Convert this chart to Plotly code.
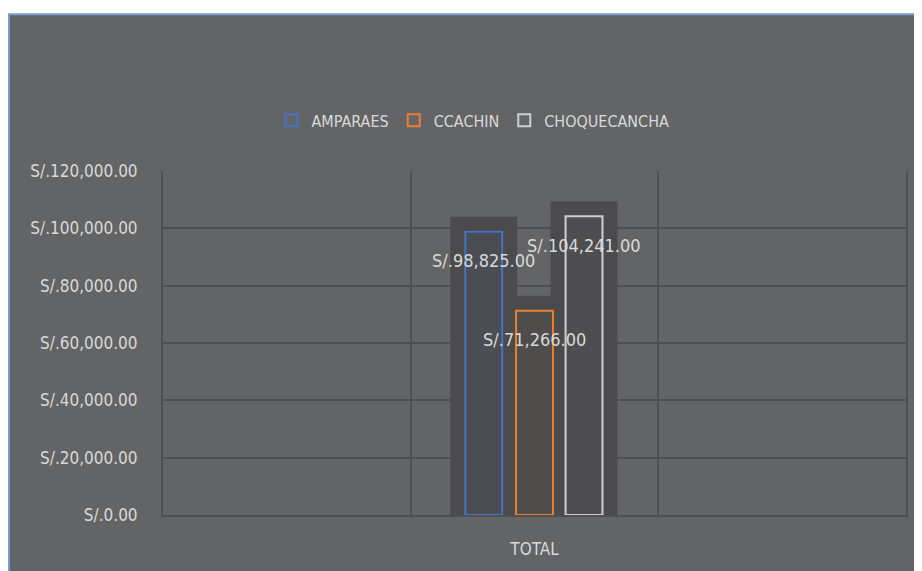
import plotly.graph_objects as go

# ---- data ----
categories = ["TOTAL"]
series_names = ["AMPARAES", "CCACHIN", "CHOQUECANCHA"]
series_values = {
    "AMPARAES": [98825.00],
    "CCACHIN": [71266.00],
    "CHOQUECANCHA": [104241.00],
}
y_tick_values = [0, 20000, 40000, 60000, 80000, 100000, 120000]
y_tick_text = [f"S/.{v:,.2f}" for v in y_tick_values]

# ---- style ----
FONT = "DejaVu Sans Condensed, Liberation Sans Narrow, sans-serif"
TXT = "#d9d9d9"
BG = "#636466"
GRID = "#4f4f51"
SHADOW = "#4b4b4d"
line_colors = {"AMPARAES": "#4472c4", "CCACHIN": "#ed7d31", "CHOQUECANCHA": "#cfcfcf"}
fill_colors = {"AMPARAES": "rgba(68,114,196,0.05)", "CCACHIN": "rgba(237,125,49,0.03)",
               "CHOQUECANCHA": "rgba(196,196,196,0.03)"}
cat_pos = [1.5]          # slot of the category on the 3-slot axis
bar_w = 0.149
offsets = [-0.205, 0.0, 0.2]   # bar centre offsets from category centre

fig = go.Figure()

# shadows
for i, name in enumerate(series_names):
    fig.add_trace(go.Bar(
        x=cat_pos, y=series_values[name], width=bar_w, offset=offsets[i] - bar_w / 2,
        marker=dict(color=SHADOW, line=dict(color=SHADOW, width=30)),
        showlegend=False, hoverinfo="skip"))

# bars
for i, name in enumerate(series_names):
    fig.add_trace(go.Bar(
        x=cat_pos, y=series_values[name], name=name, width=bar_w,
        offset=offsets[i] - bar_w / 2,
        marker=dict(color=fill_colors[name], line=dict(color=line_colors[name], width=2))))

# data labels
for i, name in enumerate(series_names):
    for xc, v in zip(cat_pos, series_values[name]):
        fig.add_annotation(x=xc + offsets[i], y=v, yshift=-29, text=f"S/.{v:,.2f}",
                           showarrow=False, xanchor="center", yanchor="middle",
                           font=dict(family=FONT, size=18, color=TXT))

# chart background frame
fig.add_shape(type="rect", xref="paper", yref="paper",
              x0=(1 - 155) / 743, x1=1.1, y0=-0.3, y1=(518 - 13) / 347,
              fillcolor=BG, line=dict(color="#7b9bd3", width=2), layer="below")

fig.update_layout(
    width=914, height=563,
    margin=dict(l=155, r=16, t=163, b=53),
    paper_bgcolor="white", plot_bgcolor=BG,
    barmode="overlay",
    font=dict(family=FONT, size=17, color=TXT),
    legend=dict(orientation="h", x=(473 - 163) / 743, xanchor="center",
                y=(518 - 120) / 347, yanchor="middle",
                font=dict(family=FONT, size=16, color=TXT),
                bgcolor="rgba(0,0,0,0)", itemwidth=30, tracegroupgap=0),
    showlegend=True,
)
fig.update_xaxes(range=[0, 3], tickvals=cat_pos, ticktext=categories, showgrid=False,
                 zeroline=False, showline=True, linecolor=GRID, linewidth=2,
                 ticks="", ticklabelstandoff=18, tickfont=dict(size=17),
                 minor=dict(tickmode="linear", tick0=0, dtick=1, showgrid=True,
                            gridcolor=GRID, gridwidth=2, ticks=""),
                 fixedrange=True)
fig.update_yaxes(range=[0, 120000], tickvals=y_tick_values, ticktext=y_tick_text,
                 showgrid=True, gridcolor=GRID, gridwidth=2,
                 zeroline=False, showline=True, mirror=True, linecolor=GRID, linewidth=2,
                 ticks="", ticklabelstandoff=20, tickfont=dict(size=17), fixedrange=True)

fig.write_html("out.html")
